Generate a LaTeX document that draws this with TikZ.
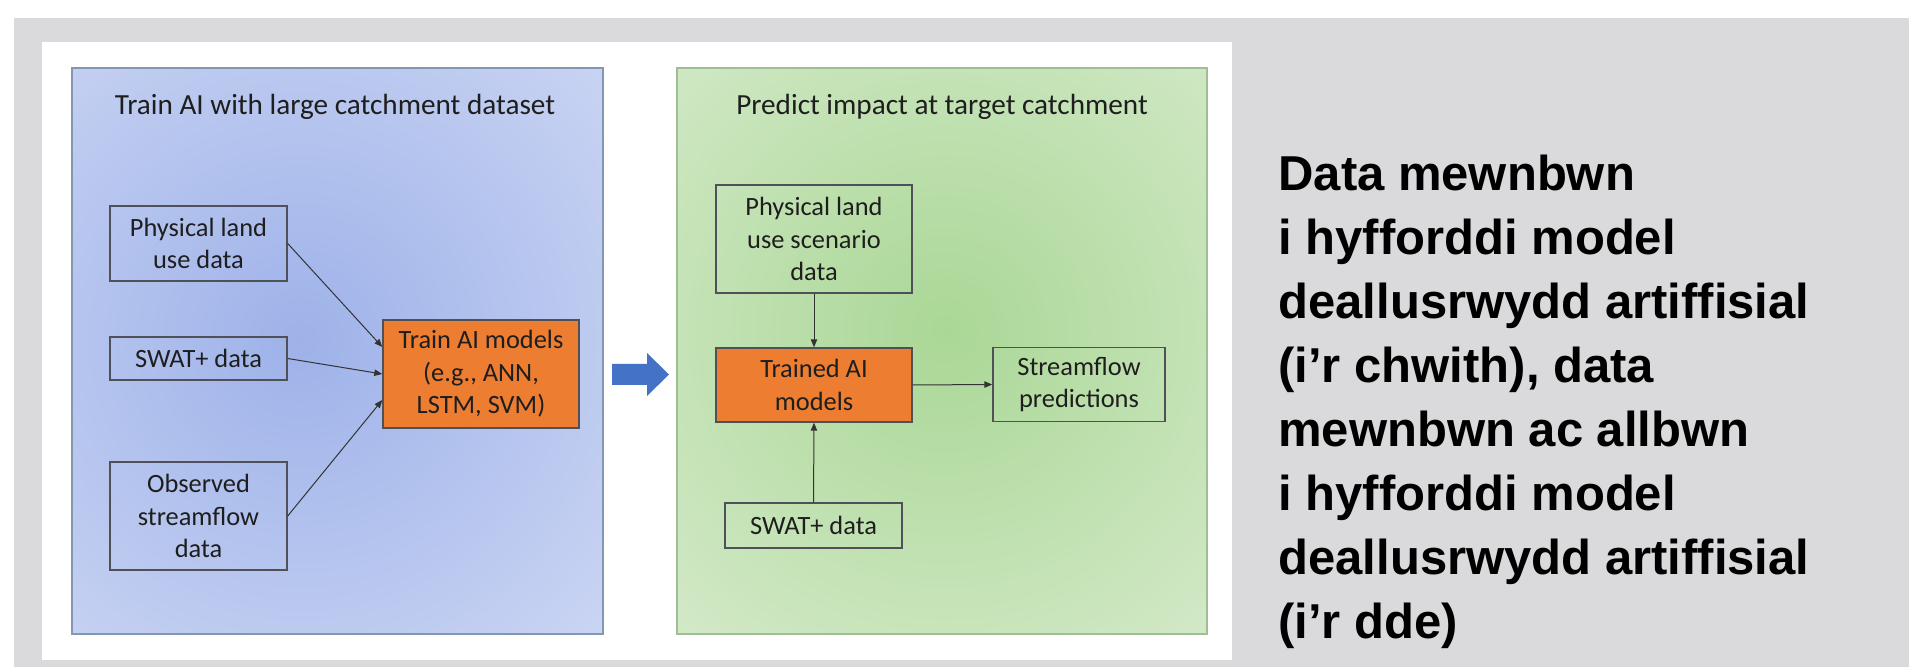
\documentclass[tikz,border=0pt]{standalone}
\usepackage{fontspec}
\setmainfont{Carlito}
\newfontfamily\capfont{Liberation Sans}
\usetikzlibrary{arrows.meta}
\definecolor{bgray}{RGB}{218,218,220}
\definecolor{orng}{RGB}{237,125,49}
\definecolor{binner}{RGB}{158,178,233}
\definecolor{bouter}{RGB}{219,226,247}
\definecolor{ginner}{RGB}{170,215,150}
\definecolor{gouter}{RGB}{228,241,221}
\definecolor{bborder}{RGB}{132,151,176}
\definecolor{gborder}{RGB}{160,190,148}
\definecolor{boxline}{RGB}{80,80,88}
\definecolor{arrowblue}{RGB}{68,114,196}
\definecolor{txt}{RGB}{30,30,30}
\begin{document}
\begin{tikzpicture}[x=0.5pt,y=-0.5pt,
  box/.style={draw=boxline, line width=0.7pt, align=center,
    font=\fontsize{13.2}{16.3}\selectfont, text=txt, inner sep=0pt},
  obox/.style={box, fill=orng},
  conn/.style={draw=black!80, line width=0.5pt, -{Triangle[length=4pt,width=3.2pt]}},
  panelline/.style={line width=0.9pt},
  ptitle/.style={font=\fontsize{14.6}{17}\selectfont, text=txt, anchor=base, inner sep=0pt},
]
\useasboundingbox (0,0) rectangle (1909,667);
% backgrounds
\fill[white] (0,0) rectangle (1909,667);
\fill[bgray] (14,18) rectangle (1909,667);
\fill[white] (42,42) rectangle (1232,660);
% blue panel
\fill[bouter] (72,68) rectangle (603,634);
\begin{scope}
  \clip (72,68) rectangle (603,634);
  \shade[inner color=binner, outer color=bouter] (300,340) circle (580);
\end{scope}
\draw[panelline, draw=bborder] (72,68) rectangle (603,634);
% green panel
\fill[gouter] (677,68) rectangle (1207,634);
\begin{scope}
  \clip (677,68) rectangle (1207,634);
  \shade[inner color=ginner, outer color=gouter] (945,330) circle (580);
\end{scope}
\draw[panelline, draw=gborder] (677,68) rectangle (1207,634);
% titles
\node[ptitle] (t1) at (335,115) {Train AI with large catchment dataset};
\node[ptitle] (t2) at (942,115) {Predict impact at target catchment};
% left nodes
\node[box, minimum width=88.5pt, minimum height=37.5pt] (phys) at (198.5,243.5) {Physical land\\use data};
\node[box, minimum width=88.5pt, minimum height=21.5pt] (swat1) at (198.5,358.5) {SWAT+ data};
\node[box, minimum width=88.5pt, minimum height=54pt] (obs) at (198.5,516) {Observed\\streamflow\\data};
\node[obox, minimum width=98pt, minimum height=54pt] (train) at (481,374) {Train AI models\\(e.g., ANN,\\LSTM, SVM)};
% right nodes
\node[box, minimum width=98pt, minimum height=54pt] (scen) at (814,239) {Physical land\\use scenario\\data};
\node[obox, minimum width=98pt, minimum height=37pt] (trained) at (814,385) {Trained AI\\models};
\node[box, minimum width=86pt, minimum height=37pt] (stream) at (1079,384.5) {Streamflow\\predictions};
\node[box, minimum width=88.5pt, minimum height=22.5pt] (swat2) at (813.5,525.5) {SWAT+ data};
% connectors
\draw[conn] (phys.east) -- ([yshift=13.5pt]train.west);
\draw[conn] (swat1.east) -- (train.west);
\draw[conn] (obs.east) -- ([yshift=-13pt]train.west);
\draw[conn] (scen.south) -- (trained.north);
\draw[conn] (swat2.north) -- (trained.south);
\draw[conn] (trained.east) -- (stream.west);
% big arrow
\fill[arrowblue] (612,364) -- (647,364) -- (647,353) -- (669,374.5) -- (647,396) -- (647,385) -- (612,385) -- cycle;
% caption text (base anchor = last line)
\node[anchor=base west, align=left, inner sep=0pt, text=black,
  font=\capfont\bfseries\fontsize{24.5}{31.95}\selectfont] (cap) at (1278,638)
  {Data mewnbwn\\i hyfforddi model\\deallusrwydd artiffisial\\(i’r chwith), data\\mewnbwn ac allbwn\\i hyfforddi model\\deallusrwydd artiffisial\\(i’r dde)};
\end{tikzpicture}
\end{document}
